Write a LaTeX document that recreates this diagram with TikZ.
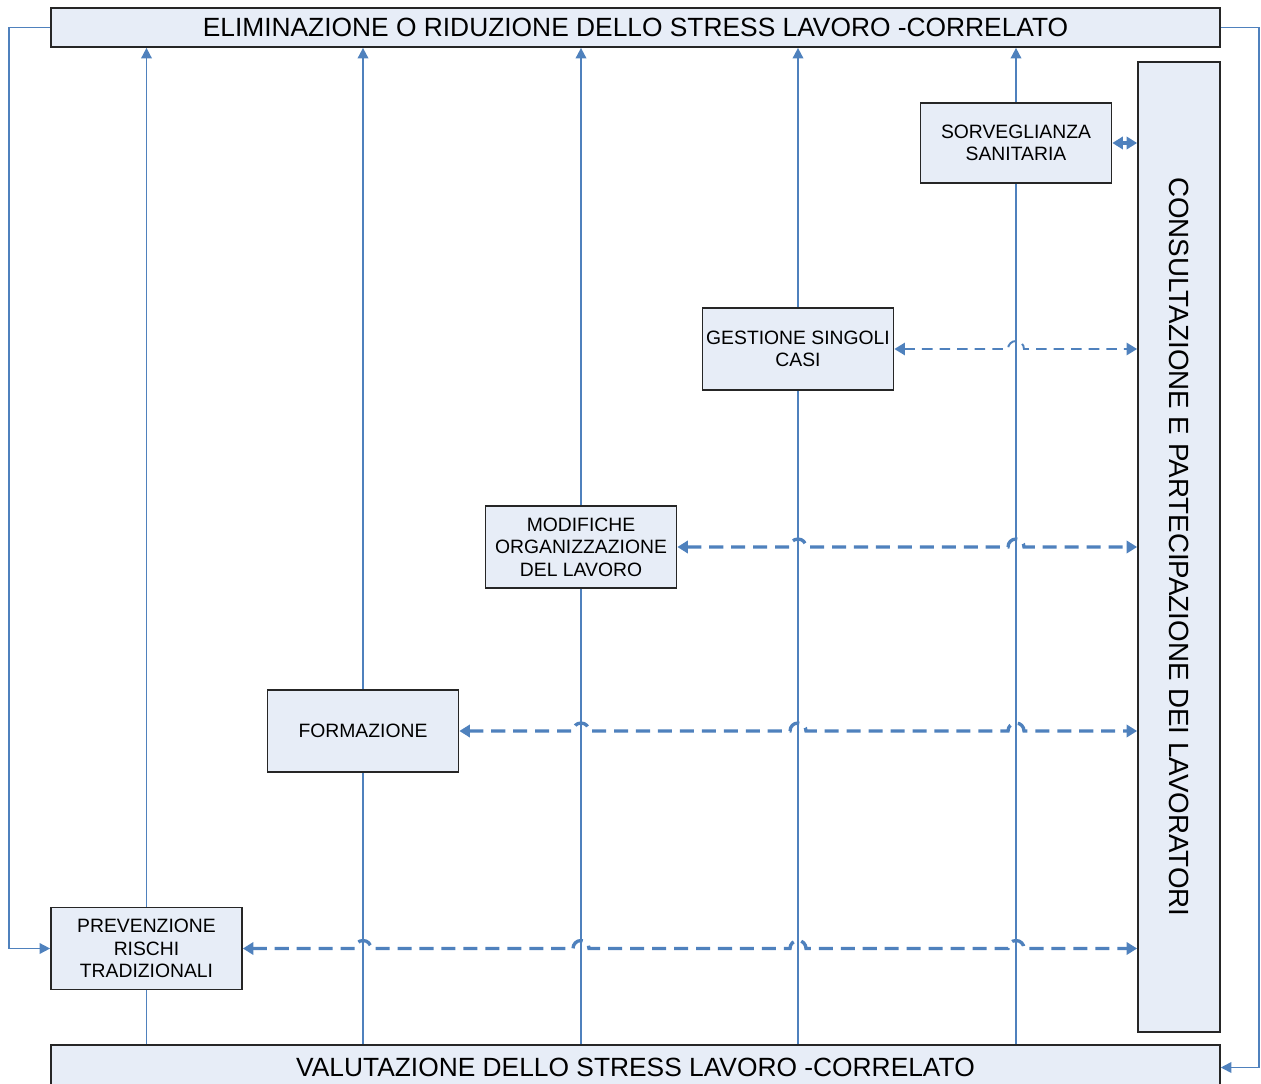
\documentclass[tikz,border=0pt]{standalone}
\usepackage{xcolor}
\definecolor{colLink}{RGB}{79,129,189}
\definecolor{colBox}{RGB}{231,237,247}
\usepackage{fontspec}
\setmainfont{Liberation Sans}
\usepackage{graphicx}
\usepackage{tikz}
\usetikzlibrary{arrows.meta, calc, backgrounds}

\begin{document}
\begin{tikzpicture}[x=0.02cm, y=-0.02cm,
		bar/.style={draw=black!85, line width=1pt, fill=colBox, inner sep=0pt, font=\fontsize{15}{18}\selectfont},
		act/.style={draw=black!85, line width=1pt, fill=colBox, inner sep=0pt, minimum width=3.82cm, minimum height=1.64cm, align=center, font=\fontsize{11}{12.8}\selectfont},
		flow/.style={colLink, line width=1pt, -{Triangle[width=6pt,length=6pt]}},
		link/.style={colLink, line width=1.9pt, dash pattern=on 8pt off 4.5pt, {Triangle[width=7pt,length=6pt]}-{Triangle[width=7pt,length=6pt]}},
		thinlink/.style={link, line width=1.1pt, dash pattern=on 6pt off 4pt}]
				\useasboundingbox (0,0) rectangle (1261,1084);
				\node[bar, minimum width=23.38cm, minimum height=0.78cm] (elim) at (635.5,27.5) {ELIMINAZIONE O RIDUZIONE DELLO STRESS LAVORO -CORRELATO};
				\node[bar, minimum width=23.38cm, minimum height=0.9cm] (val) at (635.5,1067.5) {VALUTAZIONE DELLO STRESS LAVORO -CORRELATO};
				\node[bar, minimum width=1.64cm, minimum height=19.4cm, font=\fontsize{15.8}{18}\selectfont] (cons) at (1179,547) {\rotatebox{-90}{CONSULTAZIONE E PARTECIPAZIONE DEI LAVORATORI}};
				\node[act] (prev) at (146.5,948.5) {PREVENZIONE\\RISCHI\\TRADIZIONALI};
				\node[act] (frm) at (363,731) {FORMAZIONE};
				\node[act] (mod) at (581,547) {MODIFICHE\\ORGANIZZAZIONE\\DEL LAVORO};
				\node[act] (gest) at (798,349) {GESTIONE SINGOLI\\CASI};
				\node[act, minimum height=1.6cm] (sorv) at (1016,143) {SORVEGLIANZA\\SANITARIA};
				\begin{scope}[on background layer]
					\foreach \n in {prev,frm,mod,gest,sorv}
						\draw[flow] (val.north -| \n.center) -- (elim.south -| \n.center);
				\end{scope}
				\draw[flow] (elim.west) -- ++(-41,0) |- (prev.west);
				\draw[flow] (elim.east) -- ++(38,0) |- (val.east);
				\draw[link] (prev.east) \foreach \n in {frm,mod,gest,sorv} { -- ($(prev.east -| \n.center)-(8,0)$) arc[start angle=180, end angle=0, radius=0.16cm] } -- (prev.east -| cons.west);
				\draw[link] (frm.east) \foreach \n in {mod,gest,sorv} { -- ($(frm.east -| \n.center)-(8,0)$) arc[start angle=180, end angle=0, radius=0.16cm] } -- (frm.east -| cons.west);
				\draw[link] (mod.east) \foreach \n in {gest,sorv} { -- ($(mod.east -| \n.center)-(8,0)$) arc[start angle=180, end angle=0, radius=0.16cm] } -- (mod.east -| cons.west);
				\draw[thinlink] (gest.east) -- ($(gest.east -| sorv.center)-(8,0)$) arc[start angle=180, end angle=0, radius=0.16cm] -- (gest.east -| cons.west);
				\draw[link, solid] (sorv.east) -- (sorv.east -| cons.west);
			\end{tikzpicture}
\end{document}
